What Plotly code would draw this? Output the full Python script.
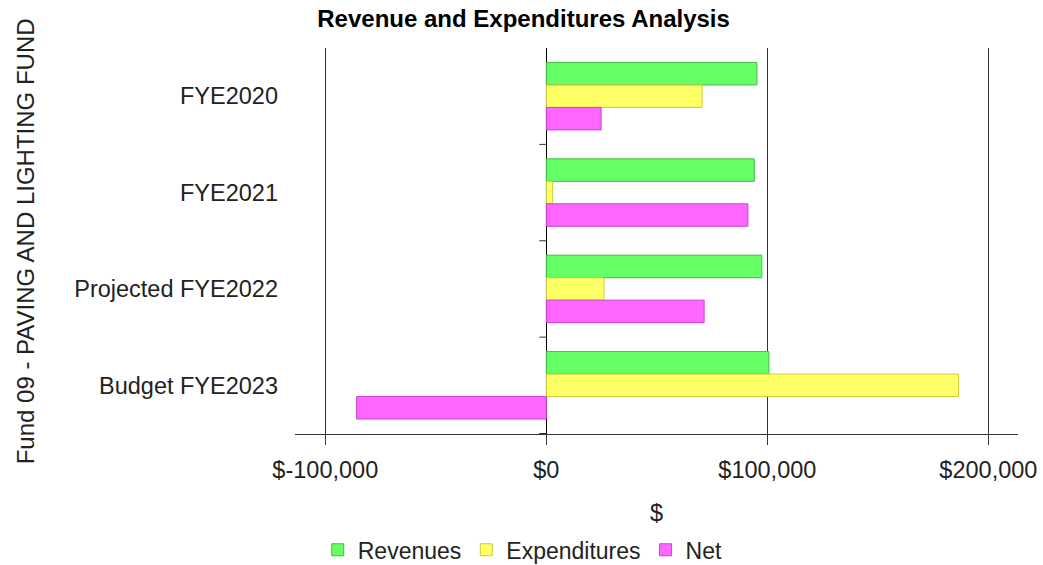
import plotly.graph_objects as go

# Fund 09 - revenue, expenditure and net position by fiscal year
categories = ["FYE2020", "FYE2021", "Projected FYE2022", "Budget FYE2023"]
revenues = [95300, 94100, 97500, 100700]
expenditures = [70500, 2900, 26100, 186500]
net = [24800, 91200, 71400, -85800]

tick_vals = [-100000, 0, 100000, 200000]
tick_text = ["$-100,000", "$0", "$100,000", "$200,000"]

series = [
    ("Revenues", revenues, "#66ff66", "#3fbf3f"),
    ("Expenditures", expenditures, "#ffff66", "#cccc3a"),
    ("Net", net, "#ff66ff", "#cc44cc"),
]

FONT = "Liberation Sans, Arial, sans-serif"
TXT = "#222222"

fig = go.Figure()
for name, vals, fill, edge in series:
    fig.add_trace(go.Bar(
        name=name, y=categories, x=vals, orientation="h",
        marker=dict(color=fill, line=dict(color=edge, width=1)),
        hovertemplate="%{y}<br>" + name + ": $%{x:,}<extra></extra>",
    ))

# small tick marks on the zero line between category bands
boundary_shapes = [
    dict(type="line", xref="x", yref="y", xsizemode="pixel", xanchor=0,
         x0=-7, x1=0, y0=i + 0.5, y1=i + 0.5,
         line=dict(color="#333333", width=1))
    for i in range(len(categories))
]

fig.update_layout(
    width=1043, height=565,
    margin=dict(l=295, r=25, t=48, b=131, autoexpand=False),
    paper_bgcolor="white", plot_bgcolor="white",
    barmode="group", bargap=0.3, bargroupgap=0,
    font=dict(family=FONT, size=23.5, color=TXT),
    title=dict(text="<b>Revenue and Expenditures Analysis</b>",
               x=0.502, xref="container", xanchor="center",
               y=1, yref="container", yanchor="top", pad=dict(t=10),
               font=dict(family=FONT, size=24, color="#000000")),
    xaxis=dict(
        range=[-113700, 213400], tickvals=tick_vals, ticktext=tick_text,
        showgrid=True, gridcolor="#333333", gridwidth=1,
        zeroline=True, zerolinecolor="#000000", zerolinewidth=1,
        showline=True, linecolor="#333333", linewidth=1,
        ticks="outside", ticklen=10, tickcolor="#333333",
        ticklabelstandoff=5, automargin=False,
        tickfont=dict(size=23.5, color=TXT),
        title=dict(text="$", font=dict(size=23.5, color=TXT), standoff=22),
    ),
    yaxis=dict(
        autorange="reversed", showgrid=False, zeroline=False, showline=False,
        ticks="", ticklabelstandoff=16, automargin=False,
        tickfont=dict(size=23.5, color=TXT),
    ),
    legend=dict(orientation="h", x=0.315, xanchor="center", y=-0.30, yanchor="middle",
                font=dict(size=23, color=TXT), traceorder="normal",
                itemwidth=30),
    shapes=boundary_shapes,
    annotations=[dict(
        text="Fund 09 - PAVING AND LIGHTING FUND", textangle=-90,
        xref="paper", yref="paper", x=-0.373, y=0.5,
        xanchor="center", yanchor="middle", showarrow=False,
        font=dict(family=FONT, size=24, color=TXT),
    )],
)

fig.write_html("out.html")
